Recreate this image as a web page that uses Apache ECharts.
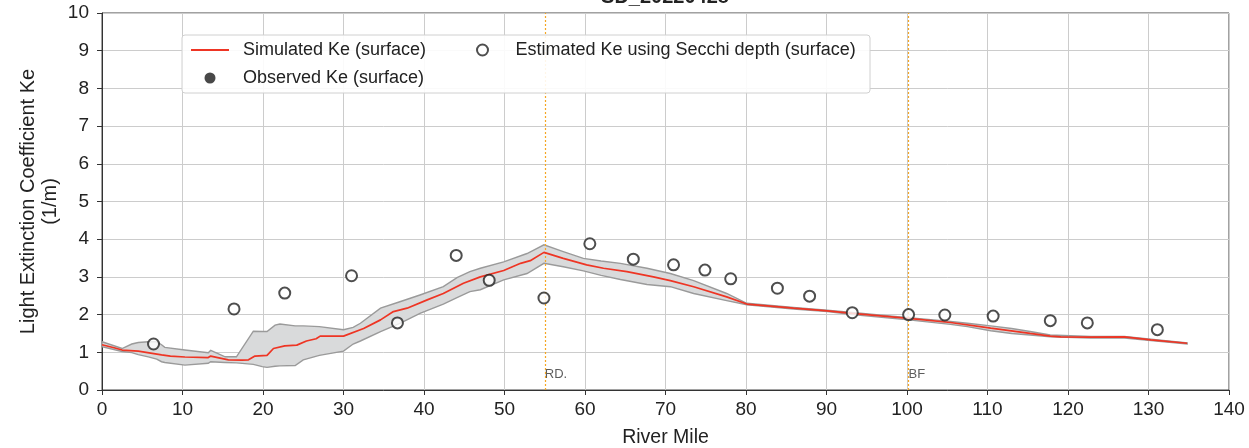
<!DOCTYPE html>
<html><head><meta charset="utf-8">
<script src="https://cdn.jsdelivr.net/npm/echarts@6/dist/echarts.min.js"></script>
<style>html,body{margin:0;padding:0;background:#fff}#c{width:1249px;height:448px}</style>
</head><body><div id="c"></div>
<script>
// ---- data ----
const titleText = 'SD_20220428';
const xTicks = [0,10,20,30,40,50,60,70,80,90,100,110,120,130,140];
const yTicks = [0,1,2,3,4,5,6,7,8,9,10];

const simMiles = [0,1.5,2.5,4.5,7.4,8.5,10.3,13.2,13.5,15.7,17.4,18.2,19.0,20.5,21.3,22.7,24.2,25.4,26.6,27.1,30.0,32.5,34.6,36.2,37.9,40.4,42.4,44.9,47.0,49.9,52.0,53.2,54.9,57.3,60.2,62.3,65.2,68.5,70.6,73.5,77.6,80.1,85.9,90.1,93.2,100.2,105.4,110.4,115.3,117.8,119.1,122.8,127.0,130.3,134.8];
const simKe    = [1.20,1.12,1.06,1.03,0.93,0.90,0.875,0.86,0.90,0.80,0.79,0.80,0.90,0.92,1.10,1.17,1.19,1.30,1.36,1.43,1.43,1.63,1.86,2.08,2.17,2.39,2.56,2.83,3.00,3.17,3.36,3.43,3.65,3.49,3.32,3.23,3.14,3.00,2.90,2.74,2.47,2.28,2.17,2.10,2.03,1.90,1.79,1.64,1.50,1.43,1.41,1.40,1.41,1.33,1.24];

const bandMiles = [0,2.5,3.7,4.5,5.75,6.8,7.4,7.8,10.3,13.2,13.5,15.3,16.7,18.8,19.9,20.5,21.5,22.1,24.0,25.0,27.0,30.0,31.2,32.1,34.6,37.0,39.5,42.4,44.1,45.7,47.0,49.9,52.8,54.9,57.3,59.8,62.0,64.4,67.7,70.6,73.5,77.6,80.1,85.9,90.1,93.2,100.2,105.4,107.5,110.4,113.0,115.3,117.8,122.8,127.0,130.3,134.8];
const bandLower = [1.15,1.02,0.99,0.94,0.88,0.82,0.75,0.73,0.66,0.71,0.75,0.73,0.72,0.68,0.62,0.60,0.63,0.64,0.65,0.80,0.92,1.03,1.22,1.30,1.55,1.77,2.03,2.28,2.45,2.61,2.66,2.92,3.09,3.36,3.27,3.16,3.04,2.93,2.80,2.74,2.56,2.37,2.26,2.15,2.08,2.00,1.86,1.74,1.68,1.57,1.50,1.46,1.41,1.38,1.38,1.31,1.22];
const bandUpper = [1.28,1.10,1.22,1.26,1.28,1.28,1.20,1.13,1.06,0.99,1.05,0.88,0.88,1.56,1.55,1.55,1.72,1.75,1.70,1.70,1.68,1.60,1.66,1.77,2.17,2.34,2.52,2.74,2.98,3.14,3.23,3.40,3.62,3.85,3.67,3.49,3.42,3.36,3.23,3.09,2.90,2.56,2.30,2.19,2.12,2.06,1.92,1.82,1.77,1.70,1.63,1.55,1.46,1.42,1.42,1.35,1.25];

const secchiMiles = [6.4,16.4,22.7,31.0,36.7,44.0,48.1,54.9,60.6,66.0,71.0,74.9,78.1,83.9,87.9,93.2,100.2,104.7,110.7,117.8,122.4,131.1];
const secchiKe    = [1.22,2.15,2.57,3.03,1.78,3.57,2.91,2.44,3.88,3.47,3.32,3.18,2.95,2.70,2.49,2.05,2.00,1.99,1.96,1.84,1.78,1.60];

const observedMiles = [];
const observedKe = [];

const refMiles = [55, 100.2];
const refLabels = ['RD.', 'BF'];

const seriesNames = ['Simulated Ke (surface)', 'Estimated Ke using Secchi depth (surface)', 'Observed Ke (surface)'];
const axisNames = { x: 'River Mile', y: 'Light Extinction Coefficient Ke\n(1/m)' };

// ---- chart ----
const FONT = 'Liberation Sans, Arial, Helvetica, sans-serif';
const chart = echarts.init(document.getElementById('c'), null, { renderer: 'canvas' });

const bandData = bandMiles.map((m, i) => [m, bandLower[i], bandUpper[i]]);
const RED = '#ee3524';

const option = {
  animation: false,
  backgroundColor: '#fff',
  textStyle: { fontFamily: FONT },
  grid: { left: 102, right: 20, top: 13, bottom: 58, outerBoundsMode: 'none', containLabel: false, show: true, borderColor: '#444', borderWidth: 1, backgroundColor: 'transparent' },
  graphic: [
    { type: 'text', x: 665, y: -13, z: 10, style: { text: titleText, textAlign: 'center', font: 'bold 20px ' + FONT, fill: '#222' } },
    { type: 'rect', shape: { x: 182, y: 35, width: 688, height: 58, r: 3 }, style: { fill: 'rgba(255,255,255,0.9)', stroke: '#d0d0d0', lineWidth: 1 }, z: 20 }
  ],
  legend: [
    {
      data: [
        { name: seriesNames[0], itemStyle: { opacity: 0, color: 'transparent', borderWidth: 0 } },
        { name: seriesNames[2] }
      ],
      orient: 'vertical', left: 185, top: 36, z: 30,
      itemWidth: 38, itemHeight: 11, itemGap: 10,
      textStyle: { fontSize: 18, color: '#222', fontFamily: FONT, padding: [0, 0, 0, 9] }
    },
    {
      data: [seriesNames[1]], orient: 'vertical', left: 471, top: 36, z: 30,
      itemWidth: 38, itemHeight: 11,
      textStyle: { fontSize: 18, color: '#222', fontFamily: FONT, padding: [0, 0, 0, 9] }
    }
  ],
  xAxis: {
    type: 'value', min: xTicks[0], max: xTicks[xTicks.length - 1], interval: 10,
    name: axisNames.x, nameLocation: 'middle', nameGap: 38, nameMoveOverlap: false,
    nameTextStyle: { fontSize: 19.5, color: '#222', fontFamily: FONT },
    axisLine: { lineStyle: { color: '#333', width: 1 } },
    axisTick: { show: true, length: 5, lineStyle: { color: '#333' } },
    axisLabel: { fontSize: 19, color: '#222', margin: 10, fontFamily: FONT },
    splitLine: { show: true, lineStyle: { color: '#cccccc', width: 1 } }
  },
  yAxis: {
    type: 'value', min: yTicks[0], max: yTicks[yTicks.length - 1], interval: 1,
    name: axisNames.y, nameLocation: 'middle', nameGap: 41, nameMoveOverlap: false,
    nameTextStyle: { fontSize: 20, color: '#222', fontFamily: FONT, lineHeight: 22 },
    axisLine: { show: true, lineStyle: { color: '#333', width: 1 } },
    axisTick: { show: true, length: 5, lineStyle: { color: '#333' } },
    axisLabel: { fontSize: 19, color: '#222', margin: 13, fontFamily: FONT },
    splitLine: { show: true, lineStyle: { color: '#cccccc', width: 1 } }
  },
  series: [
    {
      name: 'band', type: 'custom', silent: true, z: 2,
      data: bandData,
      encode: { x: 0, y: [1, 2] },
      renderItem: function (params, api) {
        if (params.dataIndex !== 0) return null;
        const pts = [];
        for (let i = 0; i < bandData.length; i++) pts.push(api.coord([bandData[i][0], bandData[i][2]]));
        for (let i = bandData.length - 1; i >= 0; i--) pts.push(api.coord([bandData[i][0], bandData[i][1]]));
        return { type: 'polygon', shape: { points: pts }, style: { fill: '#d9dadb', stroke: '#9a9a9a', lineWidth: 1.4 } };
      }
    },
    {
      name: seriesNames[0], type: 'line', z: 5,
      data: simMiles.map((m, i) => [m, simKe[i]]),
      symbol: 'none', showSymbol: false,
      lineStyle: { color: RED, width: 1.7 },
      itemStyle: { color: RED }
    },
    {
      name: seriesNames[1], type: 'scatter', z: 6,
      data: secchiMiles.map((m, i) => [m, secchiKe[i]]),
      symbol: 'circle', symbolSize: 11,
      itemStyle: { color: '#ffffff', borderColor: '#222', borderWidth: 2 }
    },
    {
      name: seriesNames[2], type: 'scatter', z: 6,
      data: observedMiles.map((m, i) => [m, observedKe[i]]),
      symbol: 'circle', symbolSize: 11,
      itemStyle: { color: '#1a1a1a' }
    },
    {
      name: 'refs', type: 'scatter', z: 4, silent: true,
      data: refMiles.map((m, i) => [m, 0.4, refLabels[i]]),
      symbolSize: 0,
      label: { show: true, position: 'right', distance: 0, fontSize: 13, color: '#333', fontFamily: FONT, formatter: p => p.value[2] },
      markLine: {
        silent: true, symbol: 'none', label: { show: false },
        lineStyle: { color: '#f5a623', type: [2, 2], width: 1.2 },
        data: refMiles.map(m => ({ xAxis: m }))
      }
    }
  ]
};
chart.setOption(option);
</script>
</body></html>
